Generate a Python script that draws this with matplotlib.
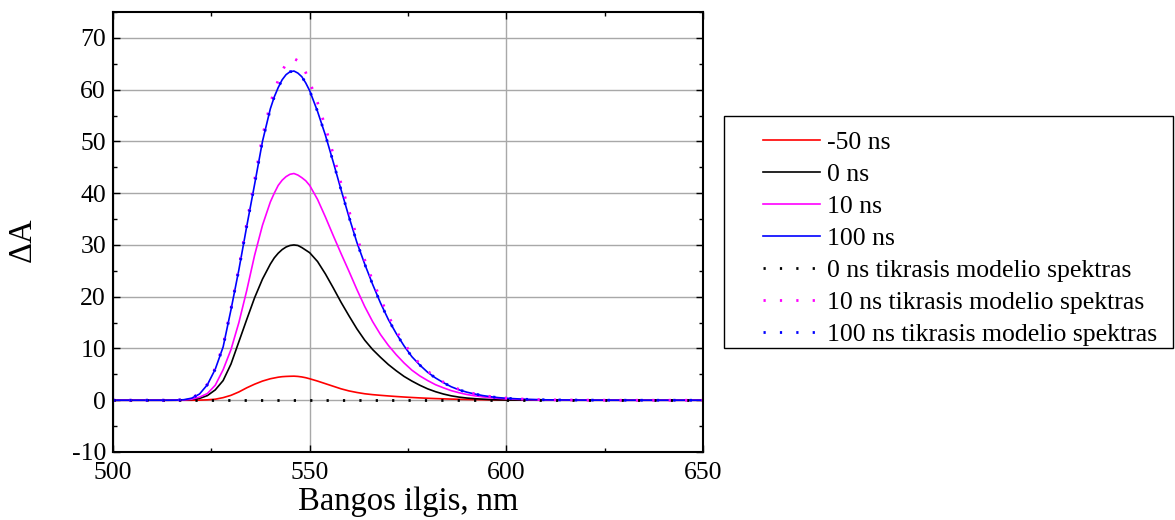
import matplotlib
matplotlib.use("Agg")
import matplotlib.pyplot as plt
from matplotlib.patches import Rectangle
from matplotlib.ticker import MultipleLocator

plt.rcParams['font.family'] = ['Liberation Serif', 'DejaVu Serif']
plt.rcParams['axes.unicode_minus'] = False

# bangos ilgiai, nm
bangos = [500, 505, 510, 514, 516, 518, 520, 522, 524, 526, 528, 530, 532, 534, 536, 538,
          540, 541, 542, 543, 544, 545, 546, 547, 548, 549, 550,
          552, 554, 556, 558, 560, 562, 564, 566, 568, 570, 572, 574, 576, 578, 580,
          582, 584, 586, 588, 590, 592, 594, 596, 598, 600,
          605, 610, 620, 630, 640, 650]

ns_m50 = [0, 0, 0, 0, 0, 0, 0, 0.02, 0.08, 0.2, 0.5, 0.95, 1.6, 2.4, 3.1, 3.7,
          4.15, 4.3, 4.45, 4.55, 4.6, 4.63, 4.65, 4.6, 4.5, 4.35, 4.15,
          3.7, 3.2, 2.7, 2.2, 1.8, 1.5, 1.25, 1.08, 0.95, 0.83, 0.72, 0.62, 0.53, 0.45, 0.38,
          0.32, 0.27, 0.22, 0.18, 0.15, 0.12, 0.1, 0.08, 0.06, 0.05,
          0.03, 0.01, 0, 0, 0, 0]

ns_0 = [0, 0, 0, 0, 0, 0.05, 0.15, 0.35, 0.9, 2.0, 3.8, 7.0, 11.3, 15.6, 19.8, 23.4,
        26.3, 27.5, 28.4, 29.1, 29.6, 29.9, 30.0, 29.9, 29.5, 29.0, 28.5,
        26.8, 24.4, 21.7, 18.9, 16.3, 13.8, 11.6, 9.8, 8.3, 6.9, 5.7, 4.6, 3.7, 2.9, 2.2,
        1.65, 1.2, 0.85, 0.6, 0.42, 0.3, 0.2, 0.13, 0.08, 0.05,
        0.02, 0, 0, 0, 0, 0]

ns_10 = [0, 0, 0, 0, 0.01, 0.05, 0.2, 0.6, 1.3, 2.9, 5.9, 9.8, 15.0, 21.2, 28.0, 33.8,
         38.3, 40.0, 41.5, 42.5, 43.2, 43.65, 43.8, 43.5, 43.0, 42.4, 41.5,
         38.8, 35.4, 31.8, 28.3, 24.9, 21.4, 18.1, 15.2, 12.7, 10.6, 8.8, 7.2, 5.8, 4.7, 3.8,
         3.0, 2.4, 1.85, 1.45, 1.1, 0.85, 0.65, 0.48, 0.36, 0.27,
         0.12, 0.05, 0.01, 0, 0, 0]

ns_100 = [0, 0, 0, 0, 0.02, 0.1, 0.4, 1.2, 3.0, 6.0, 10.3, 17.5, 25.2, 33.6, 41.7, 50.0,
          56.3, 58.6, 60.4, 61.9, 62.9, 63.45, 63.6, 63.2, 62.5, 61.3, 59.8,
          55.8, 51.2, 46.0, 40.6, 35.4, 30.5, 26.3, 22.4, 18.8, 15.6, 12.9, 10.5, 8.4, 6.8, 5.4,
          4.3, 3.4, 2.6, 2.0, 1.55, 1.2, 0.9, 0.68, 0.5, 0.38,
          0.18, 0.08, 0.02, 0, 0, 0]

# tikrasis modelio spektras
modelis_0_x = [500, 650]
modelis_0 = [0, 0]

modelis_10 = [0, 0, 0, 0, 0.02, 0.1, 0.45, 1.3, 3.1, 6.2, 10.6, 17.8, 25.6, 34.2, 42.6, 51.0,
              57.3, 59.8, 61.8, 63.6, 65.0, 65.75, 66.0, 65.6, 64.7, 63.3, 61.5,
              57.5, 52.8, 47.5, 41.8, 36.6, 31.5, 27.1, 23.1, 19.6, 16.3, 13.4, 11.0, 8.8, 7.0, 5.6,
              4.5, 3.5, 2.7, 2.1, 1.6, 1.25, 0.95, 0.72, 0.53, 0.42,
              0.2, 0.09, 0.02, 0, 0, 0]

modelis_100 = [0, 0, 0, 0, 0.02, 0.1, 0.4, 1.2, 3.0, 6.0, 10.3, 17.5, 25.2, 33.6, 41.7, 50.0,
               56.3, 58.6, 60.4, 61.9, 62.9, 63.45, 63.6, 63.2, 62.5, 61.3, 59.8,
               55.8, 51.2, 46.0, 40.6, 35.4, 30.5, 26.3, 22.4, 18.8, 15.6, 12.9, 10.5, 8.4, 6.8, 5.4,
               4.3, 3.4, 2.6, 2.0, 1.55, 1.2, 0.9, 0.68, 0.5, 0.38,
               0.18, 0.08, 0.02, 0, 0, 0]

fig = plt.figure(figsize=(11.75, 5.2), dpi=100)
ax = fig.add_axes([113 / 1175, 68 / 520, 590 / 1175, 440 / 520])

lw = 1.2
ax.plot(bangos, ns_m50, color='#ff0000', lw=lw, label='-50 ns')
ax.plot(bangos, ns_0, color='black', lw=lw, label='0 ns')
ax.plot(bangos, ns_10, color='#ff00ff', lw=lw, label='10 ns')
ax.plot(bangos, ns_100, color='#0000ff', lw=lw, label='100 ns')

taskai = (0, (0.8, 5.1))
ax.plot(modelis_0_x, modelis_0, color='black', lw=2, ls=taskai, dash_capstyle='butt',
        label='0 ns tikrasis modelio spektras')
ax.plot(bangos, modelis_10, color='#ff00ff', lw=2, ls=taskai, dash_capstyle='butt',
        label='10 ns tikrasis modelio spektras')
ax.plot(bangos, modelis_100, color='#0000ff', lw=2, ls=taskai, dash_capstyle='butt',
        label='100 ns tikrasis modelio spektras')

ax.set_xlim(500, 650)
ax.set_ylim(-10, 75)
ax.xaxis.set_major_locator(MultipleLocator(50))
ax.xaxis.set_minor_locator(MultipleLocator(25))
ax.yaxis.set_major_locator(MultipleLocator(10))
ax.yaxis.set_minor_locator(MultipleLocator(5))
ax.grid(True, which='major', color='#a8a8a8', lw=1.0)
ax.set_axisbelow(True)
ax.tick_params(which='both', direction='in', top=True, right=True, labelsize=18.5, width=1)
ax.tick_params(which='major', length=5)
ax.tick_params(axis='x', which='major', pad=7)
ax.tick_params(axis='y', which='major', pad=5)
ax.tick_params(which='minor', length=3)
for s in ax.spines.values():
    s.set_linewidth(1.5)

ax.set_xlabel('Bangos ilgis, nm', fontsize=23.5, labelpad=2)
ax.set_ylabel('ΔA', fontsize=23.5)
ax.yaxis.set_label_coords(-0.127, 0.482)

# legendos remelis
fig.patches.append(Rectangle((724 / 1175, 1 - 348 / 520), 449 / 1175, 232 / 520,
                             transform=fig.transFigure, fill=False, edgecolor='black', lw=1))
ax.legend(loc='upper left', bbox_to_anchor=(763 / 1175, 1 - 131 / 520),
          bbox_transform=fig.transFigure, frameon=False, fontsize=18.5,
          borderpad=0, borderaxespad=0, handlelength=2.2, handletextpad=0.3,
          labelspacing=0.35)

fig.savefig('out.png', dpi=100)
